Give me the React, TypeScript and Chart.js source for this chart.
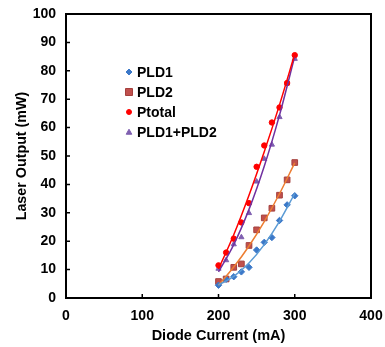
import React, { useEffect, useRef } from 'react';
import { Chart, registerables } from 'chart.js';

Chart.register(...registerables);

// Data
const currents = [200, 210, 220, 230, 240, 250, 260, 270, 280, 290, 300];
const pld1 = [4.5, 6.6, 7.5, 9.2, 10.8, 16.9, 19.6, 21.3, 27.3, 32.8, 36.0];
const pld2 = [5.8, 6.7, 10.8, 12.0, 18.5, 24.0, 28.2, 31.6, 36.2, 41.6, 47.7];
const ptotal = [11.5, 16.0, 20.9, 26.6, 33.4, 46.2, 53.7, 61.8, 67.1, 75.7, 85.5];
const pldSum = [10.3, 13.3, 18.9, 21.4, 29.9, 41.0, 49.0, 54.0, 63.7, 75.5, 84.2];

// Trendlines (polynomial fits as drawn in the reference)
const trendCurrents = [200, 220, 240, 260, 280, 300];
const pld1Trend = [4.6, 7.6, 12.3, 18.8, 27.0, 36.8];
const pld2Trend = [4.5, 10.9, 18.3, 26.9, 36.7, 47.6];
const ptotalTrend = [10.2, 22.3, 36.2, 51.5, 68.0, 85.9];
const pldSumTrend = [9.2, 18.8, 31.2, 46.4, 64.4, 85.1];

const seriesLabels = ['PLD1', 'PLD2', 'Ptotal', 'PLD1+PLD2'];
const xTicks = [0, 100, 200, 300, 400];
const yTicks = [0, 10, 20, 30, 40, 50, 60, 70, 80, 90, 100];

const FONT = '"Liberation Sans", Arial, sans-serif';

const toXY = (xs: number[], ys: number[]) => xs.map((x, i) => ({ x, y: ys[i] }));

function drawMarker(ctx: CanvasRenderingContext2D, style: string, x: number, y: number, r: number, fill: string, stroke: string) {
  ctx.save();
  ctx.fillStyle = fill;
  ctx.strokeStyle = stroke;
  ctx.lineWidth = 1;
  ctx.beginPath();
  if (style === 'rectRot') {
    ctx.moveTo(x, y - r);
    ctx.lineTo(x + r, y);
    ctx.lineTo(x, y + r);
    ctx.lineTo(x - r, y);
    ctx.closePath();
  } else if (style === 'rect') {
    ctx.rect(x - r, y - r, 2 * r, 2 * r);
  } else if (style === 'circle') {
    ctx.arc(x, y, r, 0, Math.PI * 2);
  } else if (style === 'triangle') {
    ctx.moveTo(x, y - r);
    ctx.lineTo(x + r, y + r * 0.8);
    ctx.lineTo(x - r, y + r * 0.8);
    ctx.closePath();
  }
  ctx.fill();
  ctx.stroke();
  ctx.restore();
}

export default function App() {
  const ref = useRef<HTMLCanvasElement>(null);

  useEffect(() => {
    document.body.style.margin = '0';
    const canvas = ref.current;
    if (!canvas) return;

    const frame = {
      id: 'frame',
      afterDraw(chart: any) {
        const { ctx, chartArea, scales } = chart;
        ctx.save();
        ctx.strokeStyle = '#000';
        ctx.lineWidth = 2;
        ctx.strokeRect(chartArea.left, chartArea.top, chartArea.right - chartArea.left, chartArea.bottom - chartArea.top);
        ctx.lineWidth = 1.5;
        ctx.beginPath();
        xTicks.forEach((v) => {
          const px = scales.x.getPixelForValue(v);
          ctx.moveTo(px, chartArea.bottom);
          ctx.lineTo(px, chartArea.bottom - 4);
        });
        yTicks.forEach((v) => {
          const py = scales.y.getPixelForValue(v);
          ctx.moveTo(chartArea.left, py);
          ctx.lineTo(chartArea.left + 4, py);
        });
        ctx.stroke();

        // legend
        const legendItems = [
          { style: 'rectRot', r: 3, fill: '#3B78C8', stroke: '#3B78C8' },
          { style: 'rect', r: 3.5, fill: '#C0504D', stroke: '#A5403D' },
          { style: 'circle', r: 2.5, fill: '#FF0000', stroke: '#FF0000' },
          { style: 'triangle', r: 2.8, fill: '#7F5FB0', stroke: '#7F5FB0' },
        ];
        const lx = 129;
        const ly0 = 72;
        const step = 20;
        legendItems.forEach((it, i) => {
          const y = ly0 + i * step;
          drawMarker(ctx, it.style, lx, y, it.r, it.fill, it.stroke);
          ctx.fillStyle = '#000';
          ctx.font = `bold 14px ${FONT}`;
          ctx.textAlign = 'left';
          ctx.textBaseline = 'middle';
          ctx.fillText(seriesLabels[i], 137, y + 1);
        });
        ctx.restore();
      },
    };

    const trendBase = {
      pointRadius: 0,
      borderWidth: 1.5,
      tension: 0.4,
      cubicInterpolationMode: 'monotone' as const,
      showLine: true,
      fill: false,
    };

    const chart = new Chart(canvas, {
      type: 'scatter',
      data: {
        datasets: [
          { ...trendBase, label: 'PLD1 fit', data: toXY(trendCurrents, pld1Trend), borderColor: '#5B9BD5' },
          { ...trendBase, label: 'PLD2 fit', data: toXY(trendCurrents, pld2Trend), borderColor: '#ED7D31' },
          { ...trendBase, label: 'Ptotal fit', data: toXY(trendCurrents, ptotalTrend), borderColor: '#FF0000' },
          { ...trendBase, label: 'PLD1+PLD2 fit', data: toXY(trendCurrents, pldSumTrend), borderColor: '#7030A0' },
          {
            label: seriesLabels[0], data: toXY(currents, pld1), pointStyle: 'rectRot', pointRadius: 3.2,
            backgroundColor: '#3B78C8', borderColor: '#3B78C8', borderWidth: 1, showLine: false,
          },
          {
            label: seriesLabels[1], data: toXY(currents, pld2), pointStyle: 'rect', pointRadius: 4,
            backgroundColor: '#C0504D', borderColor: '#A5403D', borderWidth: 1, showLine: false,
          },
          {
            label: seriesLabels[2], data: toXY(currents, ptotal), pointStyle: 'circle', pointRadius: 2.7,
            backgroundColor: '#FF0000', borderColor: '#FF0000', borderWidth: 1, showLine: false,
          },
          {
            label: seriesLabels[3], data: toXY(currents, pldSum), pointStyle: 'triangle', pointRadius: 3,
            backgroundColor: '#7F5FB0', borderColor: '#7F5FB0', borderWidth: 1, showLine: false,
          },
        ],
      },
      options: {
        animation: false,
        responsive: false,
        maintainAspectRatio: false,
        layout: { padding: { top: 14, right: 14, left: 0, bottom: 0 } },
        plugins: { legend: { display: false }, tooltip: { enabled: false } },
        scales: {
          x: {
            type: 'linear',
            min: 0,
            max: 400,
            afterFit: (s: any) => { s.height = 49; s.paddingLeft = 0; s.paddingRight = 0; },
            ticks: { stepSize: 100, padding: 10, color: '#000', font: { family: FONT, size: 14, weight: 'bold' } },
            grid: { display: true, drawOnChartArea: false, drawTicks: false },
            border: { display: false },
            title: { display: true, text: 'Diode Current (mA)', color: '#000', padding: { top: 0, bottom: 2 }, font: { family: FONT, size: 14.5, weight: 'bold' } },
          },
          y: {
            type: 'linear',
            min: 0,
            max: 100,
            afterFit: (s: any) => { s.width = 66; s.paddingTop = 0; s.paddingBottom = 0; },
            ticks: { stepSize: 10, padding: 10, color: '#000', font: { family: FONT, size: 14, weight: 'bold' } },
            grid: { display: true, drawOnChartArea: false, drawTicks: false },
            border: { display: false },
            title: { display: true, text: 'Laser Output (mW)', color: '#000', padding: { top: 13, bottom: 0 }, font: { family: FONT, size: 14.3, weight: 'bold' } },
          },
        },
      },
      plugins: [frame],
    } as any);

    return () => chart.destroy();
  }, []);

  return (
    <div style={{ width: 385, height: 347 }}>
      <canvas ref={ref} width={385} height={347} style={{ display: 'block' }} />
    </div>
  );
}
